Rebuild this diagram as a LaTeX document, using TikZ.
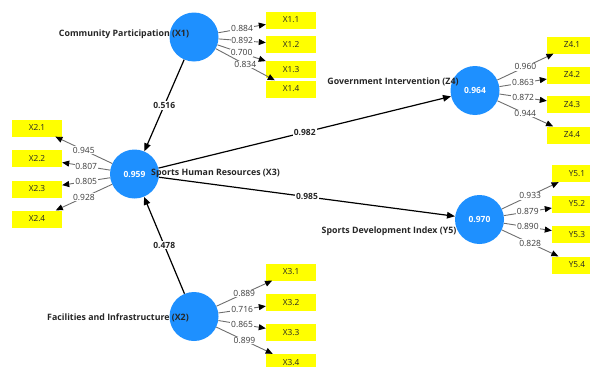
\documentclass[tikz,border=0pt]{standalone}
\usepackage{fontspec}
\setmainfont{Open Sans}
\usetikzlibrary{arrows.meta}
\definecolor{lvblue}{RGB}{30,144,255}
\definecolor{indyel}{RGB}{255,255,0}
\definecolor{loadgray}{RGB}{110,110,110}
\definecolor{loadtext}{RGB}{60,60,60}
\tikzset{
  lv/.style={circle, fill=lvblue, minimum size=49pt, inner sep=0pt, text=white, font=\fontsize{8.5}{9}\selectfont\bfseries},
  ind/.style={rectangle, fill=indyel, minimum width=50pt, minimum height=17pt, inner sep=0pt, font=\fontsize{8.3}{9}\selectfont, text=black!85},
  lvname/.style={font=\fontsize{8.8}{10}\selectfont\bfseries, text=black!85, inner sep=0pt},
  load/.style={draw=loadgray, line width=0.9pt, -{Triangle[length=7pt,width=6pt,color=black]}},
  loadlbl/.style={fill=white, inner sep=0.8pt, font=\fontsize{8.5}{9}\selectfont, text=loadtext},
  pathc/.style={draw=black, line width=1.2pt, -{Triangle[length=8pt,width=6.5pt]}},
  pathlbl/.style={fill=white, inner sep=1pt, font=\fontsize{8.5}{9}\selectfont\bfseries, text=black!85}
}
\begin{document}
\begin{tikzpicture}[x=1pt,y=-1pt]
\clip (0,0) rectangle (590,367);
% latent variables
\node[lv] (x1) at (194,37) {};
\node[lv] (x3) at (134.5,174) {0.959};
\node[lv] (x2) at (194,316.5) {};
\node[lv] (z4) at (475,90.5) {0.964};
\node[lv] (y5) at (479.5,219.5) {0.970};
% indicators
\node[ind] (x11) at (291,20) {X1.1};
\node[ind] (x12) at (291,44.5) {X1.2};
\node[ind] (x13) at (291,69.5) {X1.3};
\node[ind] (x14) at (291,89) {X1.4};
\node[ind] (x21) at (37,128) {X2.1};
\node[ind] (x22) at (37,158.5) {X2.2};
\node[ind] (x23) at (37,189) {X2.3};
\node[ind] (x24) at (37,219) {X2.4};
\node[ind] (x31) at (291,272) {X3.1};
\node[ind] (x32) at (291,302.5) {X3.2};
\node[ind] (x33) at (291,332.5) {X3.3};
\node[ind] (x34) at (291,362.5) {X3.4};
\node[ind] (z41) at (572,45) {Z4.1};
\node[ind] (z42) at (572,75) {Z4.2};
\node[ind] (z43) at (572,104.5) {Z4.3};
\node[ind] (z44) at (572,135) {Z4.4};
\node[ind] (y51) at (577,173.5) {Y5.1};
\node[ind] (y52) at (577,204) {Y5.2};
\node[ind] (y53) at (577,234.5) {Y5.3};
\node[ind] (y54) at (577,265) {Y5.4};
% loadings
\draw[load] (x1) -- node[loadlbl]{0.884} (x11);
\draw[load] (x1) -- node[loadlbl]{0.892} (x12);
\draw[load] (x1) -- node[loadlbl]{0.700} (x13);
\draw[load] (x1) -- node[loadlbl]{0.834} (x14);
\draw[load] (x3) -- node[loadlbl]{0.945} (x21);
\draw[load] (x3) -- node[loadlbl]{0.807} (x22);
\draw[load] (x3) -- node[loadlbl]{0.805} (x23);
\draw[load] (x3) -- node[loadlbl]{0.928} (x24);
\draw[load] (x2) -- node[loadlbl]{0.889} (x31);
\draw[load] (x2) -- node[loadlbl]{0.716} (x32);
\draw[load] (x2) -- node[loadlbl]{0.865} (x33);
\draw[load] (x2) -- node[loadlbl]{0.899} (x34);
\draw[load] (z4) -- node[loadlbl]{0.960} (z41);
\draw[load] (z4) -- node[loadlbl]{0.863} (z42);
\draw[load] (z4) -- node[loadlbl]{0.872} (z43);
\draw[load] (z4) -- node[loadlbl]{0.944} (z44);
\draw[load] (y5) -- node[loadlbl]{0.933} (y51);
\draw[load] (y5) -- node[loadlbl]{0.879} (y52);
\draw[load] (y5) -- node[loadlbl]{0.890} (y53);
\draw[load] (y5) -- node[loadlbl]{0.828} (y54);
% structural paths
\draw[pathc] (x1) -- node[pathlbl]{0.516} (x3);
\draw[pathc] (x2) -- node[pathlbl]{0.478} (x3);
\draw[pathc] (x3) -- node[pathlbl]{0.982} (z4);
\draw[pathc] (x3) -- node[pathlbl]{0.985} (y5);
% names
\node[lvname] (n1) at (124,34) {Community Participation (X1)};
\node[lvname] (n3) at (215.5,173) {Sports Human Resources (X3)};
\node[lvname] (n2) at (118,318) {Facilities and Infrastructure (X2)};
\node[lvname] (n4) at (393,82) {Government Intervention (Z4)};
\node[lvname] (n5) at (389,231) {Sports Development Index (Y5)};
\end{tikzpicture}
\end{document}
